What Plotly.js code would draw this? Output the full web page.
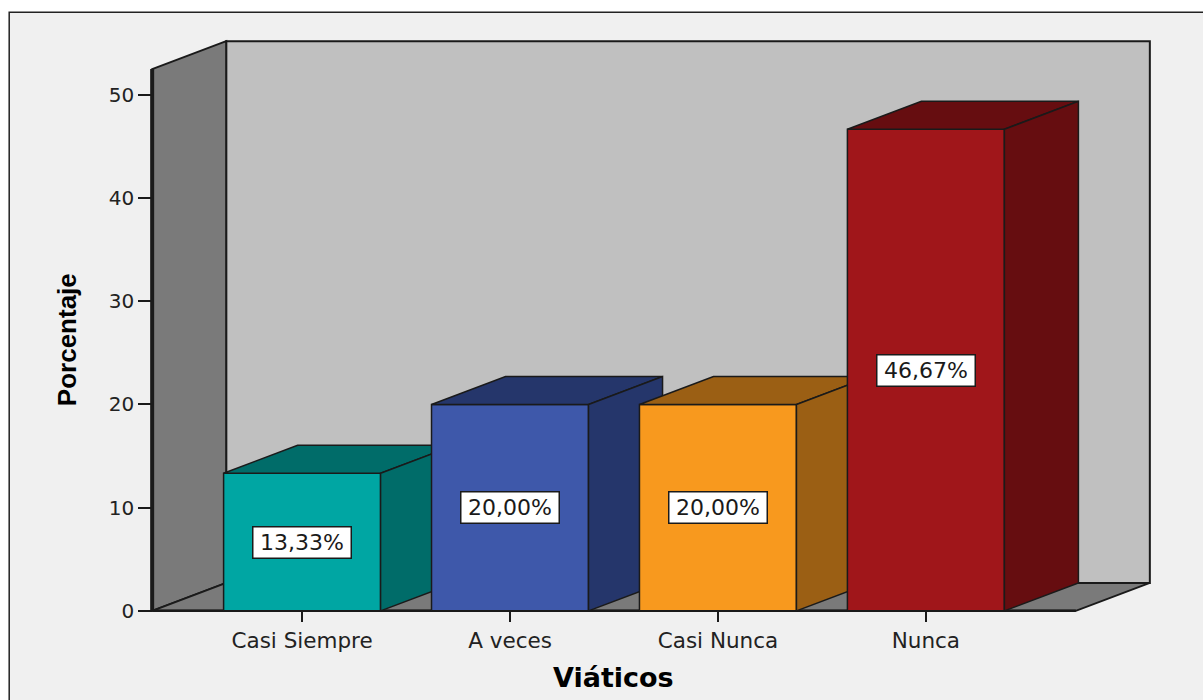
<!DOCTYPE html>
<html>
<head>
<meta charset="utf-8">
<script src="https://cdn.plot.ly/plotly-3.0.1.min.js"></script>
<style>
  html, body { margin: 0; padding: 0; background: #ffffff; }
  #chart { width: 1203px; height: 700px; }
</style>
</head>
<body>
<div id="chart"></div>
<script>
// ---- data ----
const categories = ['Casi Siempre', 'A veces', 'Casi Nunca', 'Nunca'];
const percentages = [13.33, 20.00, 20.00, 46.67];
const valueLabels = ['13,33%', '20,00%', '20,00%', '46,67%'];
const yTickValues = [0, 10, 20, 30, 40, 50];
const frontColors = ['#00A6A3', '#3E58AA', '#F8991E', '#A0161A'];
const shadeColors = ['#006C69', '#25366B', '#9B5F14', '#660D10'];

// ---- oblique projection geometry (x in category slots, y in percent) ----
const BAR_W = 0.755;           // bar width as a fraction of a slot
const DX = 0.356, DY = 2.71;   // depth offset of the back plane
const X_LEFT = -0.721, X_RIGHT = 3.721, Y_TOP = 52.5;
const PAD_X = 0.02, PAD_Y = 0.4;

// ---- page geometry ----
const W = 1203, H = 700;
const PX_X = 208, PX_Y = 10.324;       // pixels per unit
const ORIGIN = [152, 611];             // pixel position of (X_LEFT, 0)
const ML = ORIGIN[0] - PAD_X * PX_X;
const PW = (X_RIGHT + DX - X_LEFT + 2 * PAD_X) * PX_X;
const MR = W - ML - PW;
const PB = ORIGIN[1] + PAD_Y * PX_Y;
const PH = (Y_TOP + DY + 2 * PAD_Y) * PX_Y;
const MT = PB - PH;
const MB = H - PB;
const paperX = px => (px - ML) / PW;
const paperY = py => (PB - py) / PH;

const FONT = 'DejaVu Sans, Verdana, sans-serif';
const INK = '#1a1a1a';

function poly(xs, ys, fill, lw) {
  return {
    type: 'scatter', mode: 'lines',
    x: xs.concat([xs[0]]), y: ys.concat([ys[0]]),
    fill: 'toself', fillcolor: fill,
    line: { color: INK, width: lw },
    hoverinfo: 'skip', showlegend: false
  };
}
function segment(xs, ys, lw) {
  return {
    type: 'scatter', mode: 'lines', x: xs, y: ys,
    line: { color: INK, width: lw },
    hoverinfo: 'skip', showlegend: false
  };
}

const traces = [];
// walls and floor
traces.push(poly([X_LEFT + DX, X_RIGHT + DX, X_RIGHT + DX, X_LEFT + DX],
                 [DY, DY, Y_TOP + DY, Y_TOP + DY], '#C0C0C0', 2));
traces.push(poly([X_LEFT, X_LEFT, X_LEFT + DX, X_LEFT + DX],
                 [0, Y_TOP, Y_TOP + DY, DY], '#7A7A7A', 2));
traces.push(poly([X_LEFT, X_RIGHT, X_RIGHT + DX, X_LEFT + DX],
                 [0, 0, DY, DY], '#7A7A7A', 2));
traces.push(segment([X_LEFT, X_LEFT], [0, Y_TOP], 4));
traces.push(segment([X_LEFT, X_RIGHT], [0, 0], 2.5));

// bars: front face, top face, side face, left to right
percentages.forEach((v, i) => {
  const x0 = i - BAR_W / 2, x1 = i + BAR_W / 2;
  traces.push(poly([x0, x1, x1, x0], [0, 0, v, v], frontColors[i], 1.5));
  traces.push(poly([x0, x1, x1 + DX, x0 + DX], [v, v, v + DY, v + DY], shadeColors[i], 1.5));
  traces.push(poly([x1, x1 + DX, x1 + DX, x1], [0, DY, v + DY, v], shadeColors[i], 1.5));
});

const annotations = percentages.map((v, i) => ({
  x: i, y: v / 2, xref: 'x', yref: 'y',
  text: valueLabels[i], showarrow: false,
  font: { family: FONT, size: 22, color: INK },
  bgcolor: '#ffffff', bordercolor: INK, borderwidth: 1.5, borderpad: 2,
  width: 93, height: 26, xanchor: 'center', yanchor: 'middle'
}));
annotations.push({
  xref: 'paper', yref: 'y', x: paperX(67), y: Y_TOP / 2,
  text: 'Porcentaje', textangle: -90, showarrow: false,
  font: { family: 'Liberation Sans, Arial, sans-serif', size: 26, color: '#000', weight: 'bold' },
  xanchor: 'center', yanchor: 'middle'
});
annotations.push({
  xref: 'x', yref: 'paper', x: (X_LEFT + X_RIGHT) / 2, y: paperY(678),
  text: 'Viáticos', showarrow: false,
  font: { family: FONT, size: 27, color: '#000', weight: 'bold' },
  xanchor: 'center', yanchor: 'middle'
});

const layout = {
  width: W, height: H,
  margin: { l: ML, r: MR, t: MT, b: MB, pad: 0 },
  paper_bgcolor: '#ffffff',
  plot_bgcolor: 'rgba(0,0,0,0)',
  showlegend: false,
  xaxis: {
    range: [X_LEFT - PAD_X, X_RIGHT + DX + PAD_X],
    tickmode: 'array', tickvals: categories.map((c, i) => i), ticktext: categories,
    ticks: 'outside', ticklen: 10, tickwidth: 2, tickcolor: INK,
    tickfont: { family: FONT, size: 21.5, color: '#222' },
    showgrid: false, zeroline: false, showline: false,
    anchor: 'free', position: paperY(ORIGIN[1]), fixedrange: true
  },
  yaxis: {
    range: [-PAD_Y, Y_TOP + DY + PAD_Y],
    tickmode: 'array', tickvals: yTickValues,
    ticks: 'outside', ticklen: 14, tickwidth: 2, tickcolor: INK,
    tickfont: { family: FONT, size: 20, color: '#222' },
    showgrid: false, zeroline: false, showline: false,
    anchor: 'free', position: paperX(ORIGIN[0]), fixedrange: true
  },
  shapes: [{
    type: 'rect', xref: 'paper', yref: 'paper', layer: 'below',
    x0: paperX(9), x1: paperX(W + 40), y0: paperY(H + 40), y1: paperY(12),
    fillcolor: '#F0F0F0', line: { color: '#222', width: 1.5 }
  }],
  annotations: annotations
};

Plotly.newPlot('chart', traces, layout, { staticPlot: true, displayModeBar: false });
</script>
</body>
</html>
